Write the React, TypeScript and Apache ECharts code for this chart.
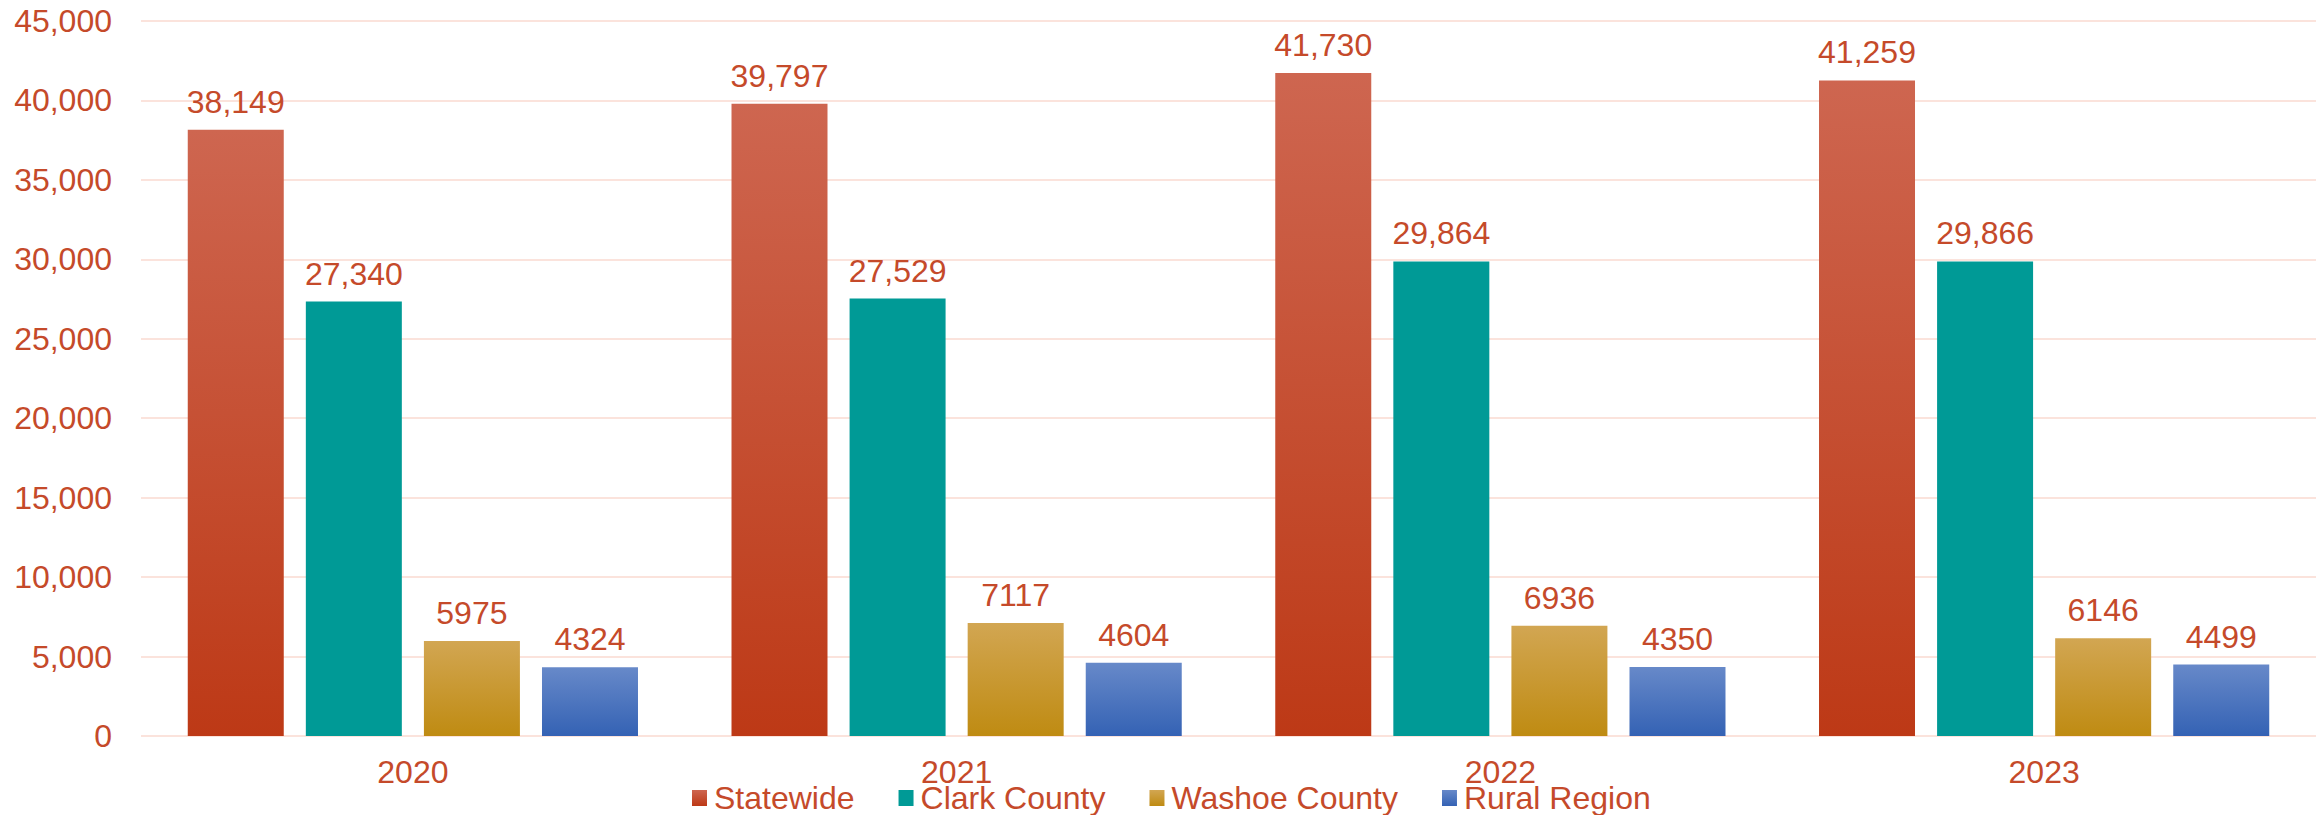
import React, { useEffect, useRef } from "react";
import * as echarts from "echarts";

const categories = ["2020", "2021", "2022", "2023"];
const seriesNames = ["Statewide", "Clark County", "Washoe County", "Rural Region"];
const statewide = [38149, 39797, 41730, 41259];
const clark = [27340, 27529, 29864, 29866];
const washoe = [5975, 7117, 6936, 6146];
const rural = [4324, 4604, 4350, 4499];
const yTicks = { min: 0, max: 45000, interval: 5000 };

const TEXT = "#C54A2A";
const FONT = "'Liberation Sans', Arial, sans-serif";
const FS = 32;

const grad = (top: string, bottom: string) =>
  new echarts.graphic.LinearGradient(0, 0, 0, 1, [
    { offset: 0, color: top },
    { offset: 1, color: bottom },
  ]);

const fmtComma = (v: number) => v.toLocaleString("en-US");

export default function App() {
  const ref = useRef<HTMLDivElement>(null);
  useEffect(() => {
    if (!ref.current) return;
    const chart = echarts.init(ref.current, null, { renderer: "svg" });
    const colors = [
      grad("#CE6650", "#BD3916"),
      "#009A96",
      grad("#D2A652", "#BF8B12"),
      grad("#6789C9", "#3462B4"),
    ];
    const mk = (name: string, data: number[], color: any, comma: boolean) => ({
      name,
      type: "bar",
      data,
      barWidth: 96,
      barGap: "23%",
      itemStyle: { color },
      label: {
        show: true,
        position: "top",
        distance: 12,
        color: TEXT,
        fontSize: FS,
        fontFamily: FONT,
        formatter: (p: any) => (comma ? fmtComma(p.value) : String(p.value)),
      },
    });
    const series = [
      mk(seriesNames[0], statewide, colors[0], true),
      mk(seriesNames[1], clark, colors[1], true),
      mk(seriesNames[2], washoe, colors[2], false),
      mk(seriesNames[3], rural, colors[3], false),
    ];

    chart.setOption({
      animation: false,
      textStyle: { fontFamily: FONT },
      grid: { left: 141, right: 7, top: 21, bottom: 79, containLabel: false },
      legend: {
        data: seriesNames.map((n, i) => ({ name: n, itemStyle: { color: colors[i] } })),
        left: 692,
        top: 782,
        padding: 0,
        itemWidth: 15,
        itemHeight: 16,
        itemGap: 44,
        icon: "rect",
        textStyle: { color: TEXT, fontSize: FS, fontFamily: FONT, padding: [0, 0, 0, 2] },
      },
      xAxis: {
        type: "category",
        data: categories,
        axisLine: { show: false },
        axisTick: { show: false },
        axisLabel: { color: TEXT, fontSize: FS, fontFamily: FONT, margin: 20 },
      },
      yAxis: {
        type: "value",
        min: yTicks.min,
        max: yTicks.max,
        interval: yTicks.interval,
        axisLine: { show: false },
        axisTick: { show: false },
        axisLabel: {
          color: TEXT,
          fontSize: FS,
          fontFamily: FONT,
          margin: 29,
          formatter: (v: number) => fmtComma(v),
        },
        splitLine: { lineStyle: { color: "#FBE3DC", width: 2 } },
      },
      series,
    });
    return () => chart.dispose();
  }, []);
  return (
    <div
      ref={ref}
      style={{ position: "fixed", left: 0, top: 0, width: 2323, height: 815, background: "#fff" }}
    />
  );
}
